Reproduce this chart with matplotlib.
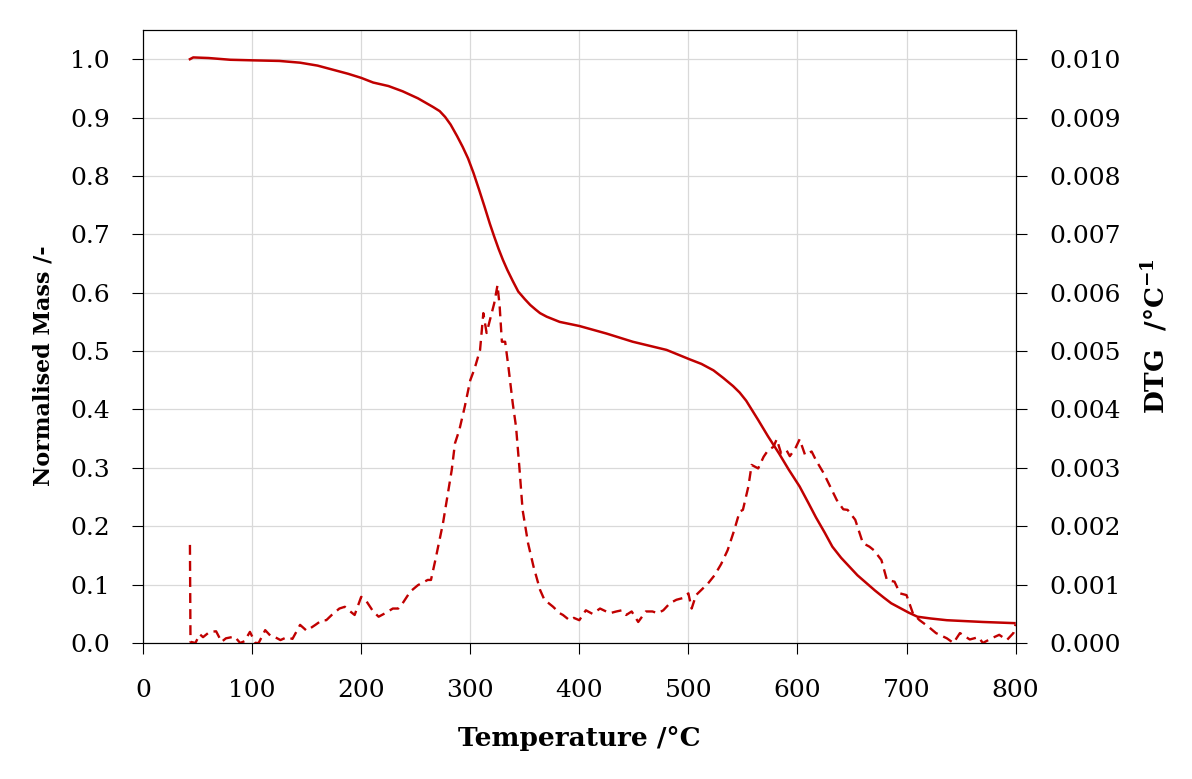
import numpy as np
import matplotlib
matplotlib.use('Agg')
import matplotlib.pyplot as plt
from matplotlib.ticker import FormatStrFormatter

# TGA curve: temperature (degC) and normalised mass (-)
tga_temp = [43, 46, 60, 80, 101, 125, 144, 160, 174, 188, 200, 211, 225, 238, 252,
            266, 272, 277, 282, 288, 293, 298, 303, 308, 313, 318, 322, 326, 330, 334,
            339, 344, 350, 355, 360, 364, 370, 382, 400, 425, 449, 480, 501, 512, 523,
            532, 541, 547, 553, 558, 564, 573, 583, 592, 602, 610, 617, 625, 632, 640,
            648, 655, 663, 671, 679, 686, 694, 702, 710, 722, 737, 770, 799]
tga_mass = [1.000, 1.003, 1.002, 0.999, 0.998, 0.997, 0.994, 0.989, 0.982, 0.975, 0.968,
            0.960, 0.954, 0.945, 0.933, 0.918, 0.911, 0.901, 0.888, 0.868, 0.850, 0.830,
            0.805, 0.777, 0.748, 0.718, 0.696, 0.675, 0.656, 0.639, 0.620, 0.602, 0.589,
            0.579, 0.571, 0.565, 0.559, 0.550, 0.543, 0.530, 0.516, 0.502, 0.486, 0.478,
            0.467, 0.454, 0.440, 0.429, 0.415, 0.400, 0.382, 0.354, 0.325, 0.297, 0.268,
            0.240, 0.215, 0.189, 0.165, 0.146, 0.130, 0.116, 0.103, 0.090, 0.078, 0.068,
            0.060, 0.052, 0.045, 0.042, 0.039, 0.036, 0.034]

# DTG curve: temperature (degC) and DTG (1/degC)
dtg_temp = [43, 43.5, 48, 52, 55, 61, 67, 72, 76, 84, 89, 93, 98, 103, 106, 112, 117, 121,
            126, 132, 137, 144, 150, 158, 164, 168, 173, 180, 185, 190, 194, 200, 205, 211,
            216, 222, 229, 234, 238, 245, 252, 261, 264, 268, 275, 283, 286, 290, 295, 300,
            304, 309, 312, 315, 318, 322, 325, 327, 329, 332, 335, 339, 342, 345, 348, 353,
            358, 364, 368, 376, 382, 385, 391, 395, 400, 406, 412, 419, 428, 434, 439, 443,
            448, 454, 461, 467, 472, 477, 483, 489, 495, 500, 503, 507, 512, 518, 524, 530,
            536, 542, 547, 550, 555, 558, 564, 569, 573, 578, 581, 585, 590, 593, 598, 602,
            607, 613, 617, 624, 630, 636, 642, 646, 653, 660, 666, 670, 677, 682, 689, 694,
            700, 706, 712, 720, 727, 737, 743, 749, 758, 766, 770, 778, 785, 792, 798, 800]
dtg_vals = [0.00168, 0.00002, 0.00000, 0.00015, 0.00010, 0.00019, 0.00020, 0.00002,
            0.00008, 0.00011, 0.00000, 0.00003, 0.00019, 0.00000, 0.00000, 0.00022,
            0.00012, 0.00010, 0.00005, 0.00010, 0.00007, 0.00031, 0.00021, 0.00031,
            0.00039, 0.00039, 0.00048, 0.00059, 0.00062, 0.00054, 0.00048, 0.00079,
            0.00071, 0.00054, 0.00045, 0.00051, 0.00059, 0.00059, 0.00068, 0.00088,
            0.00099, 0.00108, 0.00108, 0.00142, 0.00205, 0.00296, 0.00342, 0.00365,
            0.00405, 0.00450, 0.00470, 0.00502, 0.00565, 0.00531, 0.00553, 0.00582,
            0.00613, 0.00576, 0.00516, 0.00516, 0.00473, 0.00410, 0.00370, 0.00302,
            0.00228, 0.00171, 0.00131, 0.00091, 0.00074, 0.00062, 0.00051, 0.00048,
            0.00039, 0.00043, 0.00039, 0.00056, 0.00050, 0.00059, 0.00051, 0.00054,
            0.00056, 0.00048, 0.00054, 0.00036, 0.00054, 0.00054, 0.00051, 0.00056,
            0.00068, 0.00074, 0.00077, 0.00085, 0.00059, 0.00082, 0.00091, 0.00102,
            0.00116, 0.00135, 0.00159, 0.00193, 0.00225, 0.00228, 0.00268, 0.00305,
            0.00299, 0.00319, 0.00330, 0.00336, 0.00349, 0.00325, 0.00330, 0.00320,
            0.00333, 0.00349, 0.00322, 0.00328, 0.00313, 0.00291, 0.00268, 0.00245,
            0.00229, 0.00228, 0.00211, 0.00171, 0.00165, 0.00159, 0.00142, 0.00108,
            0.00105, 0.00085, 0.00082, 0.00050, 0.00039, 0.00028, 0.00017, 0.00008,
            0.00000, 0.00017, 0.00006, 0.00010, 0.00000, 0.00008, 0.00014, 0.00005,
            0.00017, 0.00032]

plt.rcParams['font.family'] = ['DejaVu Serif']
plt.rcParams['mathtext.fontset'] = 'dejavuserif'

red = '#C00000'

fig = plt.figure(figsize=(11.92, 7.79), dpi=100)
ax = fig.add_axes([0.12, 0.1746, 0.732, 0.7869])
ax2 = ax.twinx()

ax.plot(tga_temp, tga_mass, color=red, lw=1.8, zorder=3, solid_joinstyle='round')
ax2.plot(dtg_temp, dtg_vals, color=red, lw=1.7, linestyle=(0, (4.2, 2.6)))

ax.set_xlim(0, 800)
ax.set_ylim(0, 1.05)
ax2.set_ylim(0, 0.0105)
ax.set_xticks(np.arange(0, 801, 100))
ax.set_yticks(np.arange(0, 1.01, 0.1))
ax2.set_yticks(np.arange(0, 0.01001, 0.001))
ax.yaxis.set_major_formatter(FormatStrFormatter('%.1f'))
ax2.yaxis.set_major_formatter(FormatStrFormatter('%.3f'))

ax.grid(True, color='#d9d9d9', lw=0.9)
ax.set_axisbelow(True)

ax.tick_params(axis='both', direction='out', length=8, width=0.8, labelsize=18, pad=16)
ax.tick_params(axis='x', pad=18)
ax2.tick_params(axis='y', direction='out', length=8, width=0.8, labelsize=18, pad=16)
for a in (ax, ax2):
    for s in a.spines.values():
        s.set_linewidth(0.8)

ax.set_xlabel('Temperature /°C', fontsize=19, fontweight='bold')
ax.xaxis.set_label_coords(0.5, -0.135)
ax.set_ylabel('Normalised Mass /-', fontsize=16, fontweight='bold')
ax.yaxis.set_label_coords(-0.101, 0.453)
ax2.set_ylabel(r'DTG  /°C$^{\mathbf{-1}}$', fontsize=19, fontweight='bold')
ax2.yaxis.set_label_coords(1.142, 0.5)

fig.savefig('out.png', dpi=100)
